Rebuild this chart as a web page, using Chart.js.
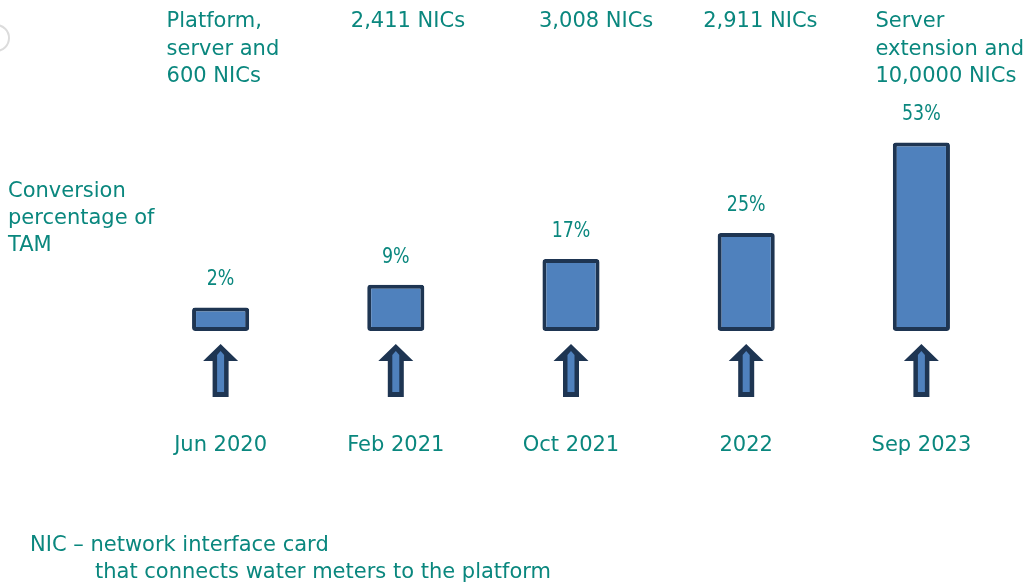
<!DOCTYPE html>
<html>
<head>
<meta charset="utf-8">
<script src="https://cdn.jsdelivr.net/npm/chart.js@4"></script>
<style>
  html, body { margin: 0; padding: 0; background: #ffffff; }
  #wrap { width: 1027px; height: 588px; position: relative; }
</style>
</head>
<body>
<div id="wrap"><canvas id="myChart"></canvas></div>
<script>
// Milestones and the share of TAM converted at each one
const milestones = ['Jun 2020', 'Feb 2021', 'Oct 2021', '2022', 'Sep 2023'];
const conversion = [2, 9, 17, 25, 53];
const notes = [
    ['Platform,', 'server and', '600 NICs'],
    ['2,411 NICs'],
    ['3,008 NICs'],
    ['2,911 NICs'],
    ['Server', 'extension and', '10,0000 NICs']
];
const sideLabel = ['Conversion', 'percentage of', 'TAM'];
const footnote = ['NIC \u2013 network interface card', 'that connects water meters to the platform'];

const TEAL = '#0a877e';
const NAVY = '#1e3552';
const BLUE = '#4f81bd';
const FONT = '"DejaVu Sans", sans-serif';
const CONDENSED = '"DejaVu Sans Condensed", "DejaVu Sans", sans-serif';

// left edge of each note block, relative to its category centre
const noteDx = [-54, -45, -32, -43, -46];

const extras = {
    id: 'extras',
    afterDatasetsDraw(chart) {
        const ctx = chart.ctx;
        const meta = chart.getDatasetMeta(0);
        ctx.save();

        // faint arc in the top-left corner
        ctx.strokeStyle = '#dcdcdc';
        ctx.lineWidth = 2;
        ctx.beginPath();
        ctx.arc(-4, 38, 13, -Math.PI / 2, Math.PI / 2);
        ctx.stroke();

        meta.data.forEach((bar, i) => {
            const x = bar.x;

            // value label above the bar, slightly narrowed
            ctx.save();
            ctx.translate(x, bar.y - 28);
            ctx.scale(0.88, 1);
            ctx.fillStyle = TEAL;
            ctx.font = '22px ' + CONDENSED;
            ctx.textAlign = 'center';
            ctx.textBaseline = 'middle';
            ctx.fillText(conversion[i] + '%', 0, 0);
            ctx.restore();

            // note block at the top
            ctx.fillStyle = TEAL;
            ctx.font = '21px ' + FONT;
            ctx.textAlign = 'left';
            ctx.textBaseline = 'middle';
            notes[i].forEach((line, j) => {
                ctx.fillText(line, x + noteDx[i], 22 + j * 27.5);
            });

            // up arrow under the bar
            ctx.fillStyle = NAVY;
            ctx.beginPath();
            ctx.moveTo(x, 344);
            ctx.lineTo(x + 17.5, 361);
            ctx.lineTo(x + 8, 361);
            ctx.lineTo(x + 8, 397);
            ctx.lineTo(x - 8, 397);
            ctx.lineTo(x - 8, 361);
            ctx.lineTo(x - 17.5, 361);
            ctx.closePath();
            ctx.fill();
            ctx.fillStyle = BLUE;
            ctx.beginPath();
            ctx.moveTo(x, 351);
            ctx.lineTo(x + 3.5, 355);
            ctx.lineTo(x + 3.5, 392);
            ctx.lineTo(x - 3.5, 392);
            ctx.lineTo(x - 3.5, 355);
            ctx.closePath();
            ctx.fill();
        });

        // side label and footnote
        ctx.fillStyle = TEAL;
        ctx.font = '21px ' + FONT;
        ctx.textAlign = 'left';
        ctx.textBaseline = 'middle';
        sideLabel.forEach((line, j) => ctx.fillText(line, 8, 192 + j * 27));
        ctx.fillText(footnote[0], 30, 546);
        ctx.fillText(footnote[1], 95, 573);

        ctx.restore();
    }
};

const chart = new Chart(document.getElementById('myChart'), {
    type: 'bar',
    data: {
        labels: milestones,
        datasets: [{
            data: conversion,
            base: -5.3,
            backgroundColor: BLUE,
            borderColor: NAVY,
            borderWidth: 4,
            borderSkipped: false,
            borderRadius: 3,
            barPercentage: 0.326,
            categoryPercentage: 1
        }]
    },
    options: {
        responsive: true,
        maintainAspectRatio: false,
        animation: false,
        layout: { padding: { top: 120, left: 133, right: 18, bottom: 130 } },
        plugins: {
            legend: { display: false },
            tooltip: { enabled: false }
        },
        scales: {
            x: {
                grid: { display: false, drawTicks: false },
                border: { display: false },
                ticks: {
                    color: TEAL,
                    font: { family: FONT, size: 21 },
                    padding: 102,
                    maxRotation: 0,
                    autoSkip: false
                },
                afterFit(scale) {
                    // keep the axis to its label band and stop it padding the ends
                    scale.height = 127;
                    scale.paddingLeft = 0;
                    scale.paddingRight = 0;
                }
            },
            y: {
                display: false,
                min: -5.3,
                max: 60
            }
        }
    },
    plugins: [extras]
});
</script>
</body>
</html>
